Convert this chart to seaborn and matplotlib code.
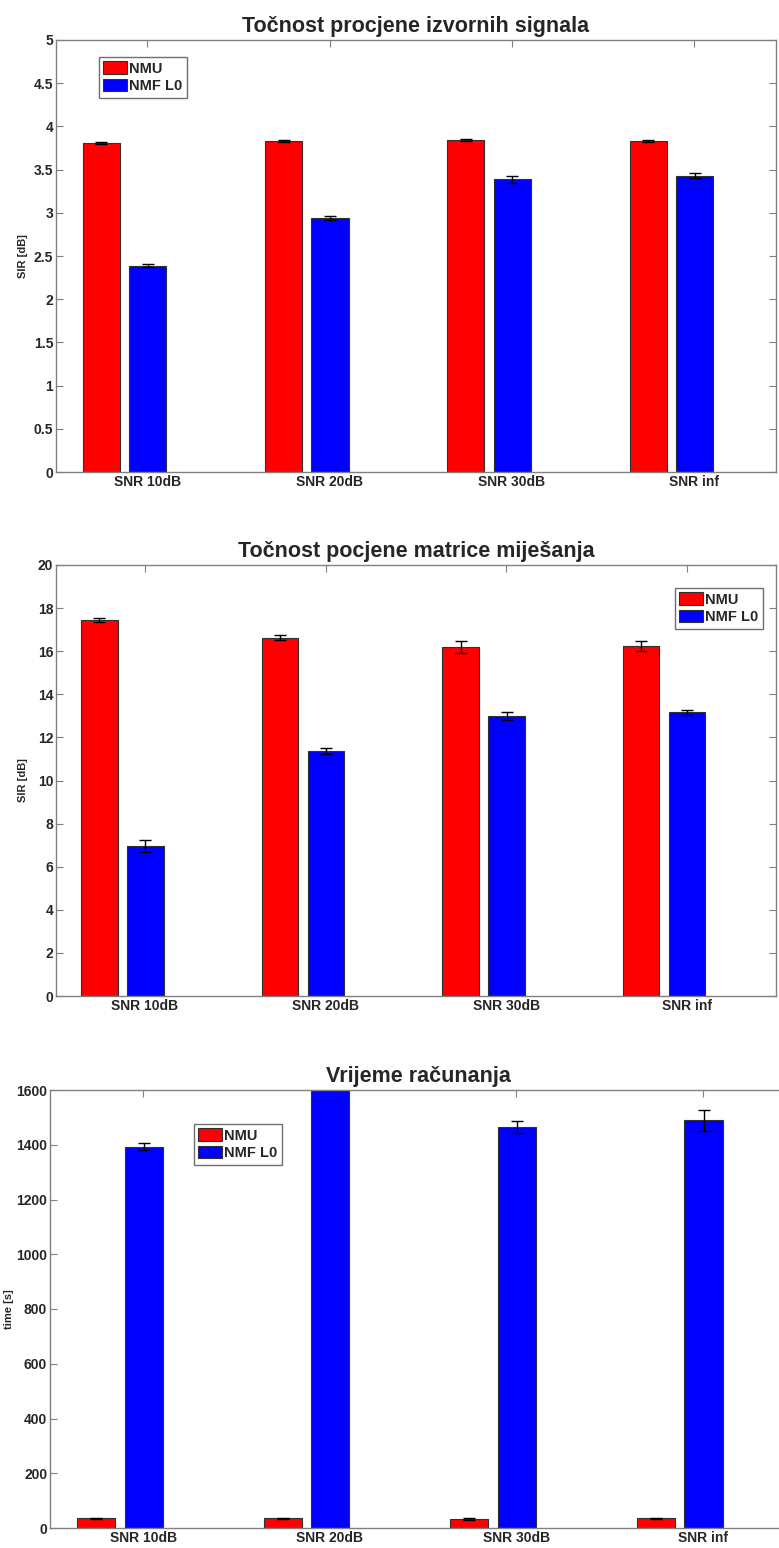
import numpy as np
import pandas as pd
import matplotlib
matplotlib.use("Agg")
import matplotlib.pyplot as plt
import matplotlib.transforms as mtransforms
from matplotlib.ticker import FuncFormatter, MultipleLocator
import seaborn as sns

# Conditions and methods
snr_levels = ["SNR 10dB", "SNR 20dB", "SNR 30dB", "SNR inf"]
methods = ["NMU", "NMF L0"]

# Source signal estimation accuracy (SIR, dB)
src_sir_nmu = [3.81, 3.83, 3.84, 3.83]
src_sir_nmu_err = [0.01, 0.01, 0.01, 0.01]
src_sir_nmf = [2.39, 2.94, 3.39, 3.43]
src_sir_nmf_err = [0.02, 0.02, 0.04, 0.03]

# Mixing matrix estimation accuracy (SIR, dB)
mix_sir_nmu = [17.45, 16.62, 16.18, 16.23]
mix_sir_nmu_err = [0.10, 0.12, 0.28, 0.24]
mix_sir_nmf = [6.96, 11.37, 13.01, 13.16]
mix_sir_nmf_err = [0.26, 0.15, 0.18, 0.12]

# Computation time (s)
time_nmu = [35, 35, 32, 35]
time_nmu_err = [3, 3, 3, 3]
time_nmf = [1393, 1700, 1464, 1489]
time_nmf_err = [14, 20, 21, 38]

palette = {"NMU": "#ff0000", "NMF L0": "#0000ff"}
spine_col = "#808080"

sns.set_style("ticks")
plt.rcParams["font.family"] = ["Liberation Sans", "DejaVu Sans"]
plt.rcParams["font.weight"] = "bold"

W, H = 779, 1548
fig = plt.figure(figsize=(W / 100, H / 100), dpi=100)


def fig_rect(left, top, right, bottom):
    return [left / W, 1 - bottom / H, (right - left) / W, (bottom - top) / H]


def draw_panel(rect, nmu, nmu_err, nmf, nmf_err, title, ylabel, ymax, ystep,
               xlim, legend_xy, ylabel_x):
    ax = fig.add_axes(rect)
    df = pd.DataFrame({
        "snr": snr_levels * 2,
        "method": [methods[0]] * 4 + [methods[1]] * 4,
        "value": list(nmu) + list(nmf),
    })
    sns.barplot(data=df, x="snr", y="value", hue="method", order=snr_levels,
                hue_order=methods, palette=palette, saturation=1,
                width=0.51, gap=0.2, errorbar=None, legend=False,
                edgecolor="#303030", linewidth=0.8, ax=ax)
    # error bars at the centre of each drawn bar
    for cont, err in zip(ax.containers, [nmu_err, nmf_err]):
        xs = [b.get_x() + b.get_width() / 2 for b in cont]
        ys = [b.get_height() for b in cont]
        ax.errorbar(xs, ys, yerr=err, fmt="none", ecolor="black",
                    elinewidth=1, capsize=4.5, capthick=1, zorder=4)

    ax.set_xlim(*xlim)
    ax.set_ylim(0, ymax)
    ax.yaxis.set_major_locator(MultipleLocator(ystep))
    ax.yaxis.set_major_formatter(FuncFormatter(lambda v, p: f"{v:g}"))
    ax.set_xticks(np.arange(len(snr_levels)) + 0.125, labels=snr_levels)
    shift = mtransforms.ScaledTranslation(-0.08, 0, fig.dpi_scale_trans)
    for lab in ax.get_xticklabels():
        lab.set_transform(lab.get_transform() + shift)

    ax.tick_params(direction="in", top=True, right=True, length=5,
                   width=0.8, color=spine_col, labelsize=10, pad=2)
    for lab in ax.get_xticklabels() + ax.get_yticklabels():
        lab.set_fontweight("bold")
    for sp in ax.spines.values():
        sp.set_visible(True)
        sp.set_color(spine_col)
        sp.set_linewidth(1)

    ax.set_xlabel("")
    ax.set_ylabel(ylabel, fontsize=8, fontweight="bold")
    ax.yaxis.set_label_coords(ylabel_x, 0.5)
    ax.set_title(title, fontsize=15.5, fontweight="bold", pad=6)

    leg = ax.legend(ax.containers, methods, loc="upper left",
                    bbox_to_anchor=(legend_xy[0] / W, 1 - legend_xy[1] / H),
                    bbox_transform=fig.transFigure, fancybox=False,
                    edgecolor="#707070", framealpha=1, borderaxespad=0,
                    prop={"size": 10.5, "weight": "bold"},
                    handlelength=1.6, handleheight=0.95, labelspacing=0.22,
                    borderpad=0.3, handletextpad=0.15)
    leg.get_frame().set_linewidth(1)
    return ax


draw_panel(fig_rect(56, 40, 776, 472), src_sir_nmu, src_sir_nmu_err,
           src_sir_nmf, src_sir_nmf_err,
           "Točnost procjene izvornih signala", "SIR [dB]", 5, 0.5,
           (-0.376, 3.574), (99, 57), -0.039)

draw_panel(fig_rect(56, 565, 776, 996), mix_sir_nmu, mix_sir_nmu_err,
           mix_sir_nmf, mix_sir_nmf_err,
           "Točnost pocjene matrice miješanja", "SIR [dB]", 20, 2,
           (-0.368, 3.62), (675, 588), -0.039)

draw_panel(fig_rect(50, 1090, 787, 1528), time_nmu, time_nmu_err,
           time_nmf, time_nmf_err,
           "Vrijeme računanja", "time [s]", 1600, 200,
           (-0.375, 3.575), (194, 1124), -0.049)

fig.savefig("out.png", dpi=100, facecolor="white")
